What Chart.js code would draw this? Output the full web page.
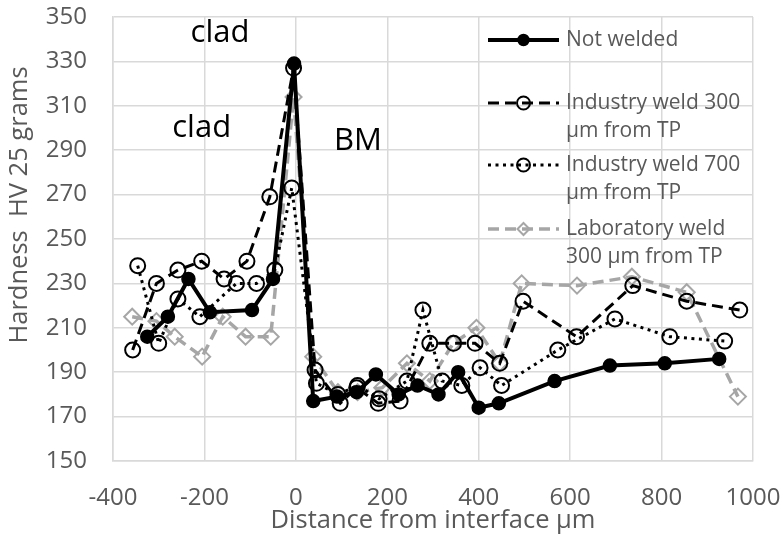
<!DOCTYPE html>
<html>
<head>
<meta charset="utf-8">
<script src="https://cdn.jsdelivr.net/npm/chart.js@4.4.1/dist/chart.umd.min.js"></script>
<style>
  html, body { margin: 0; padding: 0; background: #fff; }
  #wrap { width: 784px; height: 539px; }
</style>
</head>
<body>
<div id="wrap"><canvas id="hardness-chart" width="784" height="539"></canvas></div>
<script>
// Hardness profiles across the clad / base metal interface
const seriesNames = ["Not welded", "Industry weld 300 µm from TP", "Industry weld 700 µm from TP", "Laboratory weld 300 µm from TP"];

const notWeldedX = [-325, -280, -235, -188, -96, -50, -4, 38, 90, 133, 175, 225, 266, 312, 355, 400, 444, 566, 687, 807, 926];
const notWeldedY = [206, 215, 232, 217, 218, 232, 329, 177, 179, 181, 189, 180, 184, 180, 190, 174, 176, 186, 193, 194, 196];

const ind300X = [-357, -305, -258, -206, -157, -107, -57, -5, 42, 97, 133, 180, 228, 293, 345, 392, 446, 497, 614, 737, 855, 971];
const ind300Y = [200, 230, 236, 240, 232, 240, 269, 327, 191, 176, 183, 176, 177, 203, 203, 203, 194, 222, 206, 229, 222, 218];

const ind700X = [-346, -300, -258, -210, -130, -86, -46, -9, 45, 92, 135, 182, 243, 278, 320, 363, 403, 450, 573, 698, 818, 938];
const ind700Y = [238, 203, 223, 215, 230, 230, 236, 273, 185, 180, 184, 178, 186, 218, 186, 184, 192, 184, 200, 214, 206, 204];

const labX = [-358, -305, -265, -205, -160, -110, -55, -5, 38, 92, 135, 189, 243, 293, 344, 395, 446, 494, 615, 735, 855, 967];
const labY = [215, 213, 206, 197, 215, 206, 206, 314, 197, 181, 181, 183, 194, 186, 203, 210, 194, 230, 229, 233, 226, 179];

// zone labels written inside the plot, in axis units
const zoneText = ["clad", "clad", "BM"];
const zoneX = [-166, -206, 136];
const zoneY = [338.7, 296, 290];

const yTitle = "Hardness  HV 25 grams";
const xTitle = "Distance from interface µm";

function pts(xs, ys) {
    return xs.map((x, i) => ({ x: x, y: ys[i] }));
}

Chart.defaults.font.family = "'Open Sans', 'DejaVu Sans', sans-serif";

// legend rows: dataset index, text lines, y of first line
const legendRows = [
    { ds: 0, y: 40, lines: ["Not welded"] },
    { ds: 1, y: 103, lines: ["Industry weld 300", "µm from TP"] },
    { ds: 2, y: 165, lines: ["Industry weld 700", "µm from TP"] },
    { ds: 3, y: 229, lines: ["Laboratory weld", "300 µm from TP"] },
];

function drawMarker(ctx, ds, x, y, r) {
    ctx.save();
    ctx.setLineDash([]);
    ctx.lineWidth = ds.pointBorderWidth;
    ctx.strokeStyle = ds.pointBorderColor;
    ctx.fillStyle = ds.pointBackgroundColor;
    ctx.beginPath();
    if (ds.pointStyle === "rectRot") {
        ctx.moveTo(x, y - r);
        ctx.lineTo(x + r, y);
        ctx.lineTo(x, y + r);
        ctx.lineTo(x - r, y);
        ctx.closePath();
    } else {
        ctx.arc(x, y, r, 0, Math.PI * 2);
    }
    ctx.fill();
    ctx.stroke();
    ctx.restore();
}

const legendPlugin = {
    id: "sideLegend",
    afterDraw(chart) {
        const ctx = chart.ctx;
        legendRows.forEach(row => {
            const ds = chart.data.datasets[row.ds];
            ctx.save();
            ctx.strokeStyle = ds.borderColor;
            ctx.lineWidth = ds.borderWidth;
            ctx.lineCap = ds.borderCapStyle || "butt";
            ctx.setLineDash(ds.borderDash || []);
            ctx.beginPath();
            ctx.moveTo(488, row.y);
            ctx.lineTo(559, row.y);
            ctx.stroke();
            ctx.restore();
            const r = ds.pointStyle === "rectRot" ? 6 : (row.ds === 0 ? 5.5 : 6.5);
            drawMarker(ctx, ds, 523.5, row.y, r);
            ctx.save();
            ctx.fillStyle = "#595959";
            ctx.font = "21px 'Open Sans'";
            ctx.textBaseline = "middle";
            ctx.textAlign = "left";
            row.lines.forEach((t, i) => ctx.fillText(t, 566, row.y + i * 28));
            ctx.restore();
        });
    }
};

const zonePlugin = {
    id: "zoneLabels",
    afterDatasetsDraw(chart) {
        const ctx = chart.ctx;
        const xs = chart.scales.x, ys = chart.scales.y;
        ctx.save();
        ctx.fillStyle = "#000";
        ctx.font = "31px 'Open Sans'";
        ctx.textAlign = "center";
        ctx.textBaseline = "alphabetic";
        zoneText.forEach((t, i) => {
            ctx.fillText(t, xs.getPixelForValue(zoneX[i]), ys.getPixelForValue(zoneY[i]));
        });
        ctx.restore();
    }
};

// vertical axis title sits a little above the middle of the plot
const yTitlePlugin = {
    id: "yTitle",
    afterDraw(chart) {
        const ctx = chart.ctx;
        ctx.save();
        ctx.translate(20, 205);
        ctx.rotate(-Math.PI / 2);
        ctx.fillStyle = "#595959";
        ctx.font = "25.5px 'Open Sans'";
        ctx.textAlign = "center";
        ctx.textBaseline = "middle";
        ctx.fillText(yTitle, 0, 0);
        ctx.restore();
    }
};

const ctx = document.getElementById("hardness-chart").getContext("2d");
new Chart(ctx, {
    type: "line",
    data: {
        datasets: [
            {
                label: seriesNames[0],
                data: pts(notWeldedX, notWeldedY),
                borderColor: "#000000",
                borderWidth: 4,
                pointStyle: "circle",
                pointRadius: 6.5,
                pointBackgroundColor: "#000000",
                pointBorderColor: "#000000",
                pointBorderWidth: 1.5,
                tension: 0,
            },
            {
                label: seriesNames[1],
                data: pts(ind300X, ind300Y),
                borderColor: "#000000",
                borderWidth: 3,
                borderDash: [11, 6],
                pointStyle: "circle",
                pointRadius: 7.5,
                pointBackgroundColor: "rgba(0,0,0,0)",
                pointBorderColor: "#000000",
                pointBorderWidth: 2,
                tension: 0,
            },
            {
                label: seriesNames[2],
                data: pts(ind700X, ind700Y),
                borderColor: "#000000",
                borderWidth: 3,
                borderDash: [3, 4.5],
                pointStyle: "circle",
                pointRadius: 7.5,
                pointBackgroundColor: "rgba(0,0,0,0)",
                pointBorderColor: "#000000",
                pointBorderWidth: 2,
                tension: 0,
            },
            {
                label: seriesNames[3],
                data: pts(labX, labY),
                borderColor: "#a6a6a6",
                borderWidth: 3.5,
                borderDash: [11, 6],
                pointStyle: "rectRot",
                pointRadius: 8,
                pointBackgroundColor: "rgba(255,255,255,0)",
                pointBorderColor: "#a6a6a6",
                pointBorderWidth: 2,
                tension: 0,
            },
        ],
    },
    options: {
        responsive: false,
        animation: false,
        layout: { padding: { top: 17, right: 31, left: 0, bottom: 0 } },
        plugins: {
            legend: { display: false },
            tooltip: { enabled: false },
        },
        scales: {
            x: {
                type: "linear",
                min: -400,
                max: 1000,
                ticks: {
                    stepSize: 200, padding: 23, color: "#595959", font: { size: 24 }, maxRotation: 0,
                    callback: v => String(v),
                },
                grid: { color: "#d9d9d9", lineWidth: 1.5, drawTicks: false },
                border: { color: "#d9d9d9", width: 1.5 },
                title: {
                    display: true,
                    text: xTitle,
                    color: "#595959",
                    font: { size: 25.5 },
                    padding: { top: 0, bottom: 3 },
                },
                afterFit(scale) {
                    scale.height = 78;
                    scale.paddingLeft = 0;
                    scale.paddingRight = 0;
                },
            },
            y: {
                min: 150,
                max: 350,
                ticks: { stepSize: 20, padding: 26, color: "#595959", font: { size: 24 } },
                grid: { color: "#d9d9d9", lineWidth: 1.5, drawTicks: false },
                border: { color: "#d9d9d9", width: 1.5 },
                title: { display: false },
                afterFit(scale) {
                    scale.width = 113;
                    scale.paddingTop = 0;
                    scale.paddingBottom = 0;
                },
            },
        },
    },
    plugins: [zonePlugin, legendPlugin, yTitlePlugin],
});
</script>
</body>
</html>
